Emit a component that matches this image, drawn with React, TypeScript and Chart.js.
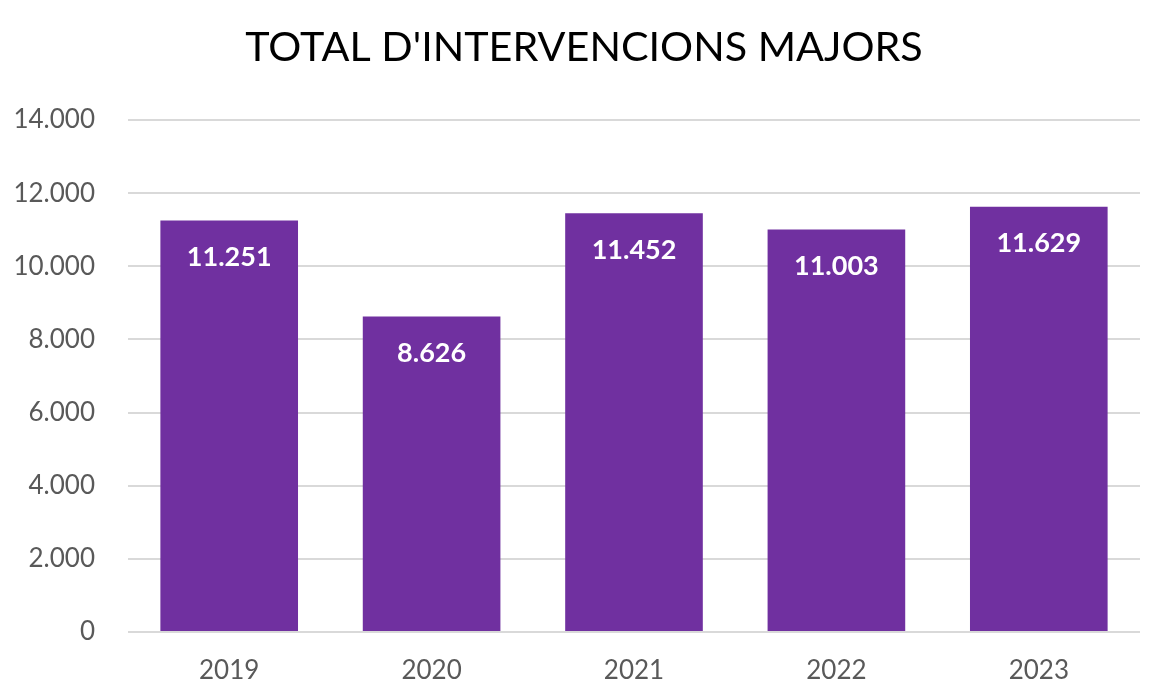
import React, { useEffect, useRef } from "react";
import { Chart, registerables } from "chart.js";

Chart.register(...registerables);

const TITLE = "TOTAL D'INTERVENCIONS MAJORS";
const YEARS = ["2019", "2020", "2021", "2022", "2023"];
const INTERVENTIONS = [11251, 8626, 11452, 11003, 11629];
const Y_MIN = 0;
const Y_MAX = 14000;
const Y_STEP = 2000;

const FONT = "Lato, 'Open Sans', sans-serif";

const fmt = (v: number) => String(Math.round(v)).replace(/\B(?=(\d{3})+(?!\d))/g, ".");

const barLabels = {
  id: "barLabels",
  afterDatasetsDraw(chart: any) {
    const ctx = chart.ctx;
    const meta = chart.getDatasetMeta(0);
    const data = chart.data.datasets[0].data as number[];
    ctx.save();
    ctx.fillStyle = "#ffffff";
    ctx.font = `bold 27px ${FONT}`;
    ctx.textAlign = "center";
    ctx.textBaseline = "middle";
    meta.data.forEach((el: any, i: number) => {
      ctx.fillText(fmt(data[i]), el.x, el.y + 37);
    });
    ctx.restore();
  },
};

const pageTitle = {
  id: "pageTitle",
  afterDraw(chart: any) {
    const ctx = chart.ctx;
    ctx.save();
    ctx.fillStyle = "#000000";
    ctx.font = `normal 41.3px ${FONT}`;
    ctx.textAlign = "center";
    ctx.textBaseline = "middle";
    ctx.fillText(TITLE, chart.width / 2, 48);
    ctx.restore();
  },
};

export default function App() {
  const ref = useRef<HTMLCanvasElement | null>(null);
  useEffect(() => {
    document.body.style.margin = "0";
    if (!ref.current) return;
    const chart = new Chart(ref.current, {
      type: "bar",
      data: {
        labels: YEARS,
        datasets: [
          {
            data: INTERVENTIONS,
            backgroundColor: "#7030A0",
            categoryPercentage: 0.68,
            barPercentage: 1,
          },
        ],
      },
      options: {
        responsive: false,
        animation: false,
        devicePixelRatio: 1,
        layout: { padding: { left: 0, right: 28, top: 120, bottom: 0 } },
        plugins: {
          legend: { display: false },
          tooltip: { enabled: false },
          title: { display: false },
        },
        scales: {
          x: {
            grid: { display: false, drawTicks: false },
            border: { display: false },
            ticks: {
              color: "#595959",
              font: { family: FONT, size: 26 },
              padding: 23,
            },
            afterFit: (s: any) => {
              s.height = 68;
            },
          },
          y: {
            min: Y_MIN,
            max: Y_MAX,
            ticks: {
              stepSize: Y_STEP,
              color: "#595959",
              font: { family: FONT, size: 26 },
              padding: 33,
              callback: (v: any) => fmt(Number(v)),
            },
            grid: { color: "#d9d9d9", lineWidth: 2, drawTicks: false },
            border: { display: false },
            afterFit: (s: any) => {
              s.width = 128;
            },
          },
        },
      },
      plugins: [barLabels, pageTitle],
    });
    return () => chart.destroy();
  }, []);
  return <canvas ref={ref} width={1168} height={700} style={{ display: "block" }} />;
}
